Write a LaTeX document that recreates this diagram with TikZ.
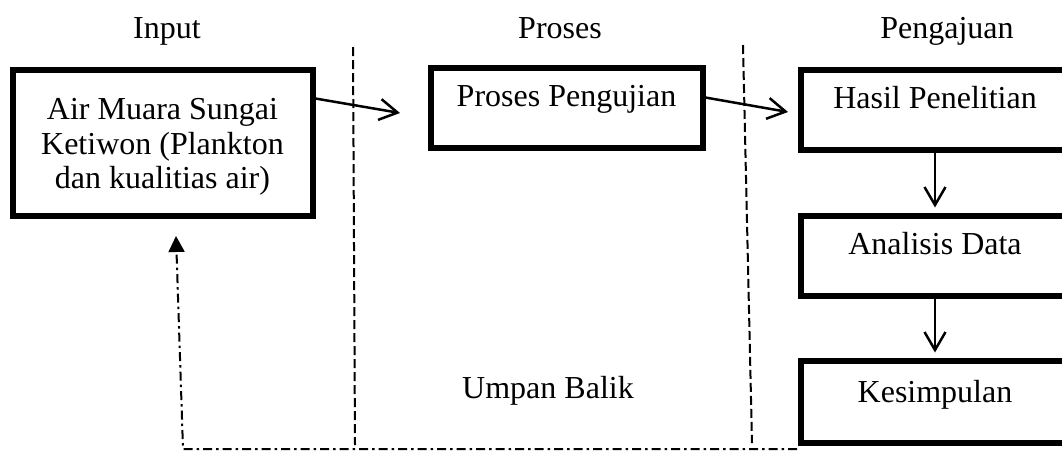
\documentclass[tikz,border=0pt]{standalone}
\usepackage{fontspec}
\setmainfont{Liberation Serif}
\usetikzlibrary{arrows.meta}
\begin{document}
\begin{tikzpicture}[x=1pt,y=-1pt,
  box/.style={draw, line width=6pt, inner sep=0pt, outer sep=0pt, align=center,
    font=\fontsize{32}{34.5}\selectfont},
  onebox/.style={box, text height=39pt, text depth=41pt, anchor=north},
  heading/.style={anchor=base, inner sep=0pt, font=\fontsize{32}{34.5}\selectfont},
  flow/.style={line width=2.5pt, -{Straight Barb[length=18pt,width=21pt,line width=2.5pt]}},
  divider/.style={line width=2pt, dash pattern=on 9pt off 4pt},
  feedback/.style={line width=2pt, dash pattern=on 9pt off 4pt on 2.5pt off 4pt,
    -{Triangle[length=16pt,width=16pt]}}
]
\useasboundingbox (0,0) rectangle (1062,451);

% column headings
\node[heading] (hin) at (167,38) {Input};
\node[heading] (hproc) at (560,38) {Proses};
\node[heading] (hout) at (947,38) {Pengajuan};

% column dividers
\coordinate (d1top) at (353,47);
\coordinate (d1bot) at (355,445);
\coordinate (d2top) at (743,45);
\coordinate (d2bot) at (752,443);
\draw[divider] (d1top) -- (d1bot);
\draw[divider] (d2top) -- (d2bot);

% boxes (the strut lowers the three-line block a little)
\node[box, minimum width=300pt, minimum height=146pt] (src) at (162.5,142.5)
  {\rule{0pt}{30pt}Air Muara Sungai\\Ketiwon (Plankton\\dan kualitias air)};
\node[onebox, minimum width=272pt] (test) at (566.5,67.5) {Proses Pengujian};
\node[onebox, minimum width=269pt] (result) at (935,69.5) {Hasil Penelitian};
\node[onebox, minimum width=269pt] (analysis) at (935,215.5) {Analisis Data};
\node[onebox, minimum width=269pt, text height=41.5pt, text depth=40.5pt] (concl)
  at (935,360.5) {Kesimpulan};

% main flow
\coordinate (a1tip) at (400,113);
\coordinate (a2tip) at (788,112);
\draw[flow] ([yshift=44.5pt]src.east) -- (a1tip);
\draw[flow] ([yshift=10.5pt]test.east) -- (a2tip);
\draw[flow] (result.south) -- ([yshift=8pt]analysis.north);
\draw[flow] (analysis.south) -- ([yshift=8pt]concl.north);

% feedback loop
\node[heading] (fblabel) at (548,398) {Umpan Balik};
\coordinate (fbstart) at (797,449);
\coordinate (fbcorner) at (183,449);
\coordinate (fbtip) at (176,236);
\draw[feedback] (fbstart) -- (fbcorner) -- (fbtip);
\end{tikzpicture}
\end{document}
